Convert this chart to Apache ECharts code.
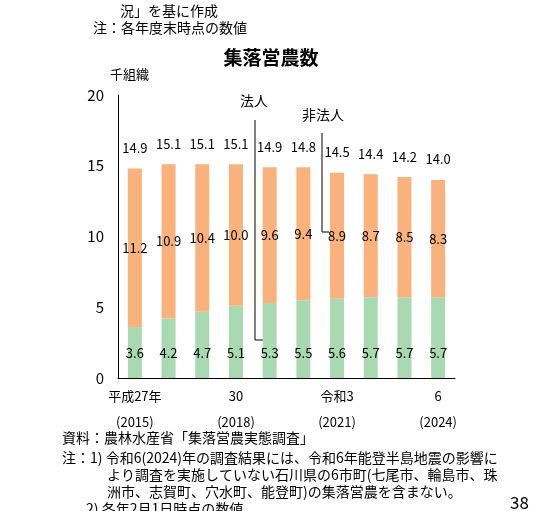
<!DOCTYPE html><html><head><meta charset="utf-8">
<script src="https://cdn.jsdelivr.net/npm/echarts@6/dist/echarts.min.js"></script>
<style>body{margin:0;background:#fff}#c{width:542px;height:511px}</style></head><body><div id="c"></div>
<script>
const categories=['平成27年\n(2015)','','','30\n(2018)','','','令和3\n(2021)','','','6\n(2024)'];
const corporate=[3.6,4.2,4.7,5.1,5.3,5.5,5.6,5.7,5.7,5.7];
const nonCorporate=[11.2,10.9,10.4,10.0,9.6,9.4,8.9,8.7,8.5,8.3];
const totals=[14.9,15.1,15.1,15.1,14.9,14.8,14.5,14.4,14.2,14.0];
const F='"Noto Sans CJK JP"';
const t=(x,y,s,size,extra)=>Object.assign({type:'text',left:x,top:y,style:{text:s,font:(size||13)+'px '+F,fill:'#000'}},extra||{});
const ch=echarts.init(document.getElementById('c'));
ch.setOption({
 animation:false,textStyle:{fontFamily:F},
 grid:{left:118,right:87,top:95,bottom:133},
 xAxis:{type:'category',data:categories,axisTick:{show:false},axisLine:{lineStyle:{color:'#000'}},
  axisLabel:{color:'#000',fontSize:13,lineHeight:26,interval:0,margin:5}},
 yAxis:{type:'value',min:0,max:20,interval:5,splitLine:{show:false},axisLine:{show:true,lineStyle:{color:'#000'}},
  axisTick:{show:false},axisLabel:{color:'#000',fontSize:15,margin:14}},
 series:[
  {type:'bar',stack:'a',data:corporate,barWidth:14,itemStyle:{color:'#a9d9b1'},
   label:{show:true,position:'insideBottom',distance:18,color:'#000',fontSize:13}},
  {type:'bar',stack:'a',data:nonCorporate,barWidth:14,itemStyle:{color:'#f9b27b'},
   label:{show:true,position:'inside',color:'#000',fontSize:13,formatter:p=>p.value.toFixed(1)}},
  {type:'bar',stack:'a',data:totals.map(()=>0),barWidth:14,
   label:{show:true,position:'top',distance:14,color:'#000',fontSize:13,formatter:p=>totals[p.dataIndex].toFixed(1)}}
 ],
 graphic:[
  t(120,4,'況」を基に作成',14),t(93,21,'注：各年度末時点の数値',14),
  {type:'text',left:'center',top:48,style:{text:'集落営農数',font:'bold 19px '+F,fill:'#000'}},
  t(110,68,'千組織'),
  t(240,94,'法人',14),t(302,108,'非法人',14),
  {type:'polyline',shape:{points:[[255,120],[255,340],[265,340]]},style:{stroke:'#000',lineWidth:1,fill:null}},
  {type:'polyline',shape:{points:[[322,133],[322,232],[329,232]]},style:{stroke:'#000',lineWidth:1,fill:null}},
  t(62,431,'資料：農林水産省「集落営農実態調査」',14),
  t(62,451,'注：1) 令和6(2024)年の調査結果には、令和6年能登半島地震の影響に',14),
  t(107,468,'より調査を実施していない石川県の6市町(七尾市、輪島市、珠',14),
  t(107,485,'洲市、志賀町、穴水町、能登町)の集落営農を含まない。',14),
  t(86,502,'2) 各年2月1日時点の数値',14),
  t(510,494,'38',17)
 ]
});
</script></body></html>
